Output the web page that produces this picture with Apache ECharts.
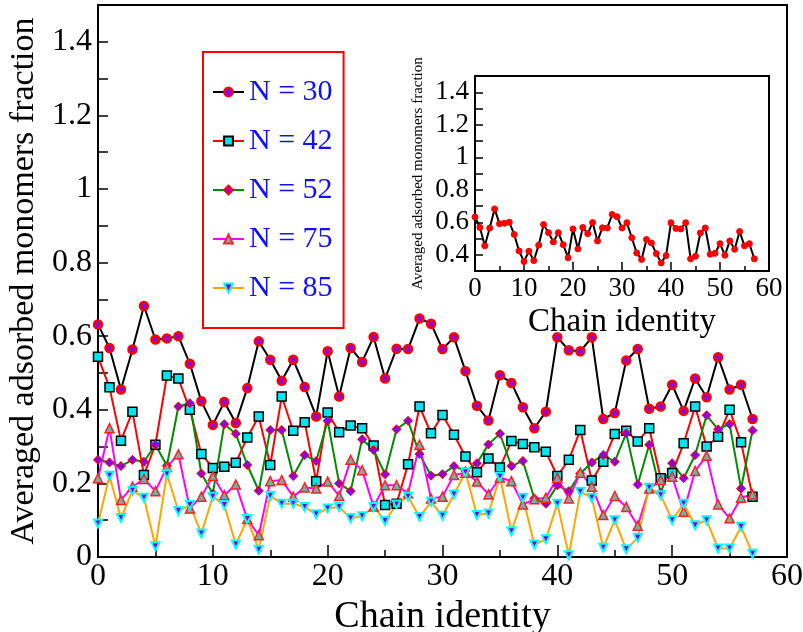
<!DOCTYPE html>
<html>
<head>
<meta charset="utf-8">
<script src="https://cdn.jsdelivr.net/npm/echarts@6/dist/echarts.min.js"></script>
<style>
html,body{margin:0;padding:0;background:#fff;}
#chart{width:803px;height:632px;}
</style>
</head>
<body>
<div id="chart"></div>
<script>
// Chain identity (x values)
var chainIds = [0,1,2,3,4,5,6,7,8,9,10,11,12,13,14,15,16,17,18,19,20,21,22,23,24,25,26,27,28,29,30,31,32,33,34,35,36,37,38,39,40,41,42,43,44,45,46,47,48,49,50,51,52,53,54,55,56,57];

var seriesNames = ['N = 30', 'N = 42', 'N = 52', 'N = 75', 'N = 85'];

var n30 = [0.632,0.568,0.455,0.564,0.682,0.591,0.594,0.600,0.525,0.423,
           0.359,0.421,0.364,0.459,0.586,0.536,0.479,0.536,0.462,0.382,
           0.559,0.436,0.568,0.530,0.598,0.485,0.566,0.565,0.648,0.634,
           0.565,0.597,0.505,0.411,0.371,0.494,0.473,0.407,0.350,0.395,
           0.597,0.562,0.559,0.597,0.375,0.391,0.534,0.565,0.403,0.409,
           0.468,0.397,0.485,0.434,0.543,0.455,0.468,0.375];

var n42 = [0.544,0.461,0.316,0.395,0.223,0.305,0.493,0.485,0.400,0.280,
           0.242,0.245,0.256,0.325,0.382,0.250,0.436,0.343,0.366,0.206,
           0.393,0.339,0.357,0.350,0.303,0.141,0.145,0.252,0.409,0.336,
           0.386,0.332,0.273,0.230,0.268,0.243,0.315,0.307,0.298,0.286,
           0.220,0.264,0.345,0.208,0.259,0.334,0.343,0.314,0.350,0.214,
           0.228,0.309,0.409,0.300,0.327,0.400,0.312,0.164];

var n52 = [0.264,0.257,0.247,0.264,0.259,0.305,0.248,0.409,0.418,0.227,
           0.172,0.361,0.335,0.250,0.180,0.345,0.345,0.220,0.277,0.261,
           0.370,0.200,0.179,0.320,0.291,0.225,0.347,0.370,0.280,0.221,
           0.225,0.247,0.234,0.255,0.306,0.335,0.247,0.261,0.159,0.145,
           0.195,0.179,0.227,0.257,0.277,0.259,0.336,0.197,0.305,0.175,
           0.255,0.214,0.277,0.385,0.347,0.361,0.186,0.344];

var n75 = [0.214,0.350,0.155,0.191,0.212,0.179,0.245,0.279,0.132,0.164,
           0.220,0.168,0.197,0.103,0.059,0.206,0.209,0.164,0.189,0.186,
           0.205,0.166,0.264,0.236,0.137,0.195,0.195,0.173,0.305,0.159,
           0.164,0.223,0.229,0.205,0.170,0.216,0.206,0.143,0.157,0.161,
           0.215,0.159,0.229,0.191,0.114,0.166,0.136,0.085,0.186,0.209,
           0.218,0.123,0.234,0.275,0.143,0.105,0.161,0.170];

var n85 = [0.091,0.221,0.106,0.180,0.161,0.029,0.225,0.125,0.141,0.064,
           0.164,0.141,0.034,0.103,0.020,0.166,0.145,0.145,0.136,0.116,
           0.132,0.136,0.105,0.111,0.136,0.098,0.143,0.164,0.109,0.150,
           0.112,0.170,0.230,0.114,0.118,0.218,0.070,0.161,0.034,0.048,
           0.145,0.005,0.177,0.161,0.025,0.100,0.021,0.052,0.188,0.168,
           0.100,0.145,0.086,0.100,0.023,0.023,0.082,0.009];

// Inset: same N = 30 series
var insetValues = n30;

var xTickLabels = ['0','10','20','30','40','50','60'];
var yTickLabels = ['0','0.2','0.4','0.6','0.8','1','1.2','1.4'];
var insetYTickLabels = ['0.4','0.6','0.8','1','1.2','1.4'];

function pairs(vals){ return chainIds.map(function(x,i){ return [x, vals[i]]; }); }
function yFmt(list){
  return function(v){
    var s = String(Math.round(v*10)/10);
    return list.indexOf(s) >= 0 ? s : '';
  };
}
function xFmt(v){ var s = String(Math.round(v)); return xTickLabels.indexOf(s) >= 0 ? s : ''; }

var FONT = 'Liberation Serif';

var chart = echarts.init(document.getElementById('chart'), null, {renderer:'canvas'});

function lineSeries(name, vals, lineColor, symbol, size, fill, border, bw, rot){
  return {
    name: name, type: 'line', xAxisIndex: 0, yAxisIndex: 0,
    data: pairs(vals),
    symbol: symbol, symbolSize: size, symbolRotate: rot || 0,
    showSymbol: true,
    lineStyle: {color: lineColor, width: 2},
    itemStyle: {color: fill, borderColor: border, borderWidth: bw},
    emphasis: {disabled: true},
    z: 3
  };
}

var option = {
  animation: false,
  backgroundColor: '#fff',
  grid: [
    {left: 98, top: 5, right: 16, bottom: 75, containLabel: false, outerBoundsMode: 'none',
     show: true, borderColor: '#000', borderWidth: 2, backgroundColor: 'transparent'},
    {left: 475, top: 76, width: 294, height: 195, containLabel: false, outerBoundsMode: 'none',
     show: true, borderColor: '#000', borderWidth: 2, backgroundColor: '#fff'}
  ],
  legend: {
    data: seriesNames,
    left: 203, top: 52,
    orient: 'vertical',
    itemWidth: 31, itemHeight: 11, itemGap: 19,
    padding: [25, 11, 25, 9],
    borderColor: '#ff0000', borderWidth: 2,
    backgroundColor: '#fff',
    textStyle: {fontFamily: FONT, fontSize: 30, color: '#1010ff', lineHeight: 30},
    selectedMode: false
  },
  xAxis: [
    {
      type: 'value', gridIndex: 0, min: 0, max: 60, interval: 10,
      axisLine: {show: true, lineStyle: {color: '#000', width: 2}},
      axisTick: {show: true, inside: true, length: 12, lineStyle: {color: '#000', width: 1.5}},
      minorTick: {show: true, splitNumber: 2, length: 7, lineStyle: {color: '#000', width: 1.5}},
      splitLine: {show: false},
      axisLabel: {fontFamily: FONT, fontSize: 32, color: '#000', margin: 4, formatter: xFmt},
      name: 'Chain identity', nameLocation: 'middle', nameGap: 14,
      nameTextStyle: {fontFamily: FONT, fontSize: 38, color: '#000'}
    },
    {
      type: 'value', gridIndex: 1, min: 0, max: 60, interval: 10,
      axisLine: {show: true, lineStyle: {color: '#000', width: 2}},
      axisTick: {show: true, inside: true, length: 9, lineStyle: {color: '#000', width: 1.5}},
      minorTick: {show: true, splitNumber: 2, length: 5, lineStyle: {color: '#000', width: 1.5}},
      splitLine: {show: false},
      axisLabel: {fontFamily: FONT, fontSize: 27, color: '#000', margin: 4, formatter: xFmt},
      name: 'Chain identity', nameLocation: 'middle', nameGap: 35,
      nameTextStyle: {fontFamily: FONT, fontSize: 33, color: '#000'}
    }
  ],
  yAxis: [
    {
      type: 'value', gridIndex: 0, min: 0, max: 1.5, interval: 0.1,
      axisLine: {show: true, lineStyle: {color: '#000', width: 2}},
      axisTick: {show: true, inside: true, length: 10, lineStyle: {color: '#000', width: 1.5}},
      splitLine: {show: false},
      axisLabel: {fontFamily: FONT, fontSize: 32, color: '#000', margin: 6, formatter: yFmt(yTickLabels)},
      name: 'Averaged adsorbed monomers fraction', nameLocation: 'middle', nameGap: 51,
      nameTextStyle: {fontFamily: FONT, fontSize: 34, color: '#000'}
    },
    {
      type: 'value', gridIndex: 1, min: 0.3, max: 1.5, interval: 0.1,
      axisLine: {show: true, lineStyle: {color: '#000', width: 2}},
      axisTick: {show: true, inside: true, length: 8, lineStyle: {color: '#000', width: 1.5}},
      splitLine: {show: false},
      axisLabel: {fontFamily: FONT, fontSize: 27, color: '#000', margin: 6, formatter: yFmt(insetYTickLabels)},
      name: 'Averaged adsorbed monomers fraction', nameLocation: 'middle', nameGap: 49,
      nameTextStyle: {fontFamily: FONT, fontSize: 15, color: '#000'}
    }
  ],
  series: [
    lineSeries(seriesNames[0], n30, '#000000', 'circle', 8, '#9400d3', '#ff0000', 2.5),
    lineSeries(seriesNames[1], n42, '#ff0000', 'rect', 9, '#00e5ee', '#000000', 1.5),
    lineSeries(seriesNames[2], n52, '#008b00', 'diamond', 9, '#9400d3', '#ff0000', 1),
    lineSeries(seriesNames[3], n75, '#ff00ff', 'triangle', 9, '#6fb0a8', '#ff2020', 1.5),
    lineSeries(seriesNames[4], n85, '#ffa500', 'triangle', 8, '#8a00c8', '#00ffff', 2, 180),
    {
      name: 'inset', type: 'line', xAxisIndex: 1, yAxisIndex: 1,
      data: pairs(insetValues),
      symbol: 'circle', symbolSize: 6, showSymbol: true,
      lineStyle: {color: '#000', width: 2},
      itemStyle: {color: '#ff0000', borderColor: '#ff0000', borderWidth: 1},
      emphasis: {disabled: true}, z: 5
    }
  ]
};
chart.setOption(option);
</script>
</body>
</html>
